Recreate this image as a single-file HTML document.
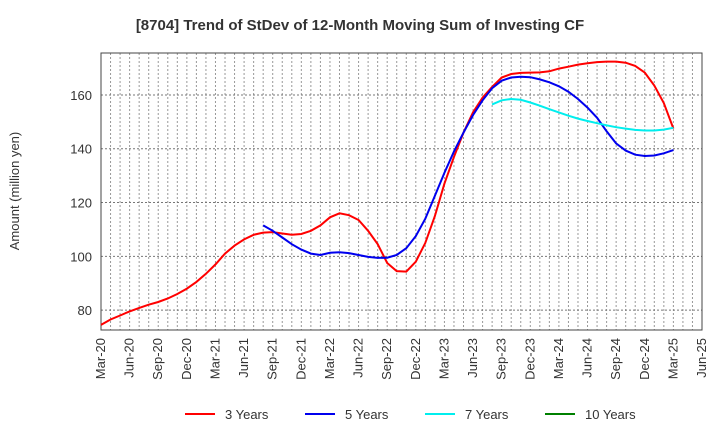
<!DOCTYPE html>
<html><head><meta charset="utf-8">
<style>body{margin:0;background:#fff;font-family:"Liberation Sans",sans-serif}</style></head>
<body>
<svg id="c" width="720" height="440" xmlns="http://www.w3.org/2000/svg" font-family="Liberation Sans, sans-serif">
<text x="360" y="30" text-anchor="middle" font-size="15" font-weight="bold" fill="#333">[8704]  Trend of StDev of 12-Month Moving Sum of Investing CF</text>
<text transform="translate(19,191) rotate(-90)" text-anchor="middle" font-size="13" fill="#333">Amount (million yen)</text>
<g id="grid"></g><g id="axes"></g><g id="series"></g><g id="legend"></g>
</svg>
<script>
const xLabels=["Mar-20","Jun-20","Sep-20","Dec-20","Mar-21","Jun-21","Sep-21","Dec-21","Mar-22","Jun-22","Sep-22","Dec-22","Mar-23","Jun-23","Sep-23","Dec-23","Mar-24","Jun-24","Sep-24","Dec-24","Mar-25","Jun-25"];
const yTicks=[80,100,120,140,160];
const s3=[74.5,76.5,78,79.5,80.8,82,83,84.3,86,88,90.5,93.5,97,101,104,106.3,108,108.8,109,108.5,108,108.3,109.5,111.5,114.5,116,115.3,113.5,109.5,104.5,97.5,94.5,94.3,98,105,115,127,137,146,153.5,159,163,166.5,167.8,168.2,168.3,168.4,168.8,169.8,170.5,171.3,171.8,172.2,172.4,172.4,172,170.8,168.3,163.5,157,147.5];
const s5Start=17;
const s5=[111.5,109.5,107,104.5,102.5,101,100.5,101.3,101.5,101.2,100.5,99.8,99.4,99.5,100.5,103,107.5,114,122.5,131,139,146,152.5,158,162.5,165.3,166.5,166.8,166.6,165.8,164.7,163.2,161.2,158.5,155.3,151.5,146.5,142,139.3,137.8,137.3,137.5,138.3,139.5];
const s7Start=41;
const s7=[156.5,158,158.5,158.2,157.2,156,154.7,153.5,152.3,151.2,150.3,149.5,148.7,148,147.5,147,146.8,146.8,147.1,147.8];
const s10=[];
const L=101,R=702,T=53,B=330,yMin=72.6,yMax=175.6,nMonths=63;
const X=i=>L+(R-L)*i/nMonths;
const Y=v=>B-(v-yMin)/(yMax-yMin)*(B-T);
const NS="http://www.w3.org/2000/svg";
function mk(p,t,a){const e=document.createElementNS(NS,t);for(const k in a)e.setAttribute(k,a[k]);document.getElementById(p).appendChild(e);return e;}
for(let m=1;m<nMonths;m++){const g=mk('grid','line',{x1:X(m),x2:X(m),y1:T,y2:B,stroke:'#999','stroke-dasharray':'2,2','stroke-width':1});

}
yTicks.forEach(v=>{const g=mk('grid','line',{x1:L,x2:R,y1:Y(v),y2:Y(v),stroke:'#777','stroke-dasharray':'2,2','stroke-width':1});


const t=mk('axes','text',{x:L-9,y:Y(v)+5,'text-anchor':'end','font-size':13,fill:'#333'});t.textContent=v;

});
const fr=mk('axes','rect',{x:L,y:T,width:R-L,height:B-T,fill:'none',stroke:'#444','stroke-width':1});


xLabels.forEach((lab,i)=>{const x=X(i*3);const t=mk('axes','text',{transform:`translate(${x+4},${B+8}) rotate(-90)`,'text-anchor':'end','font-size':13,fill:'#333'});t.textContent=lab;

});
function line(arr,start,color,name){if(!arr.length)return;const d=arr.map((v,i)=>(i?'L':'M')+X(start+i).toFixed(1)+','+Y(v).toFixed(1)).join('');
const p=mk('series','path',{d:d,fill:'none',stroke:color,'stroke-width':2});

}
line(s3,0,'#ff0000','line-3-years');line(s5,s5Start,'#0000ee','line-5-years');line(s7,s7Start,'#00eeee','line-7-years');line(s10,0,'#008000','line-10-years');
[["3 Years","#ff0000",185],["5 Years","#0000ee",305],["7 Years","#00eeee",425],["10 Years","#008000",545]].forEach(([n,c,x])=>{
const l=mk('legend','line',{x1:x,x2:x+30,y1:414,y2:414,stroke:c,'stroke-width':2});


const t=mk('legend','text',{x:x+40,y:419,'font-size':13,fill:'#333'});t.textContent=n;

});
</script>
</body></html>
